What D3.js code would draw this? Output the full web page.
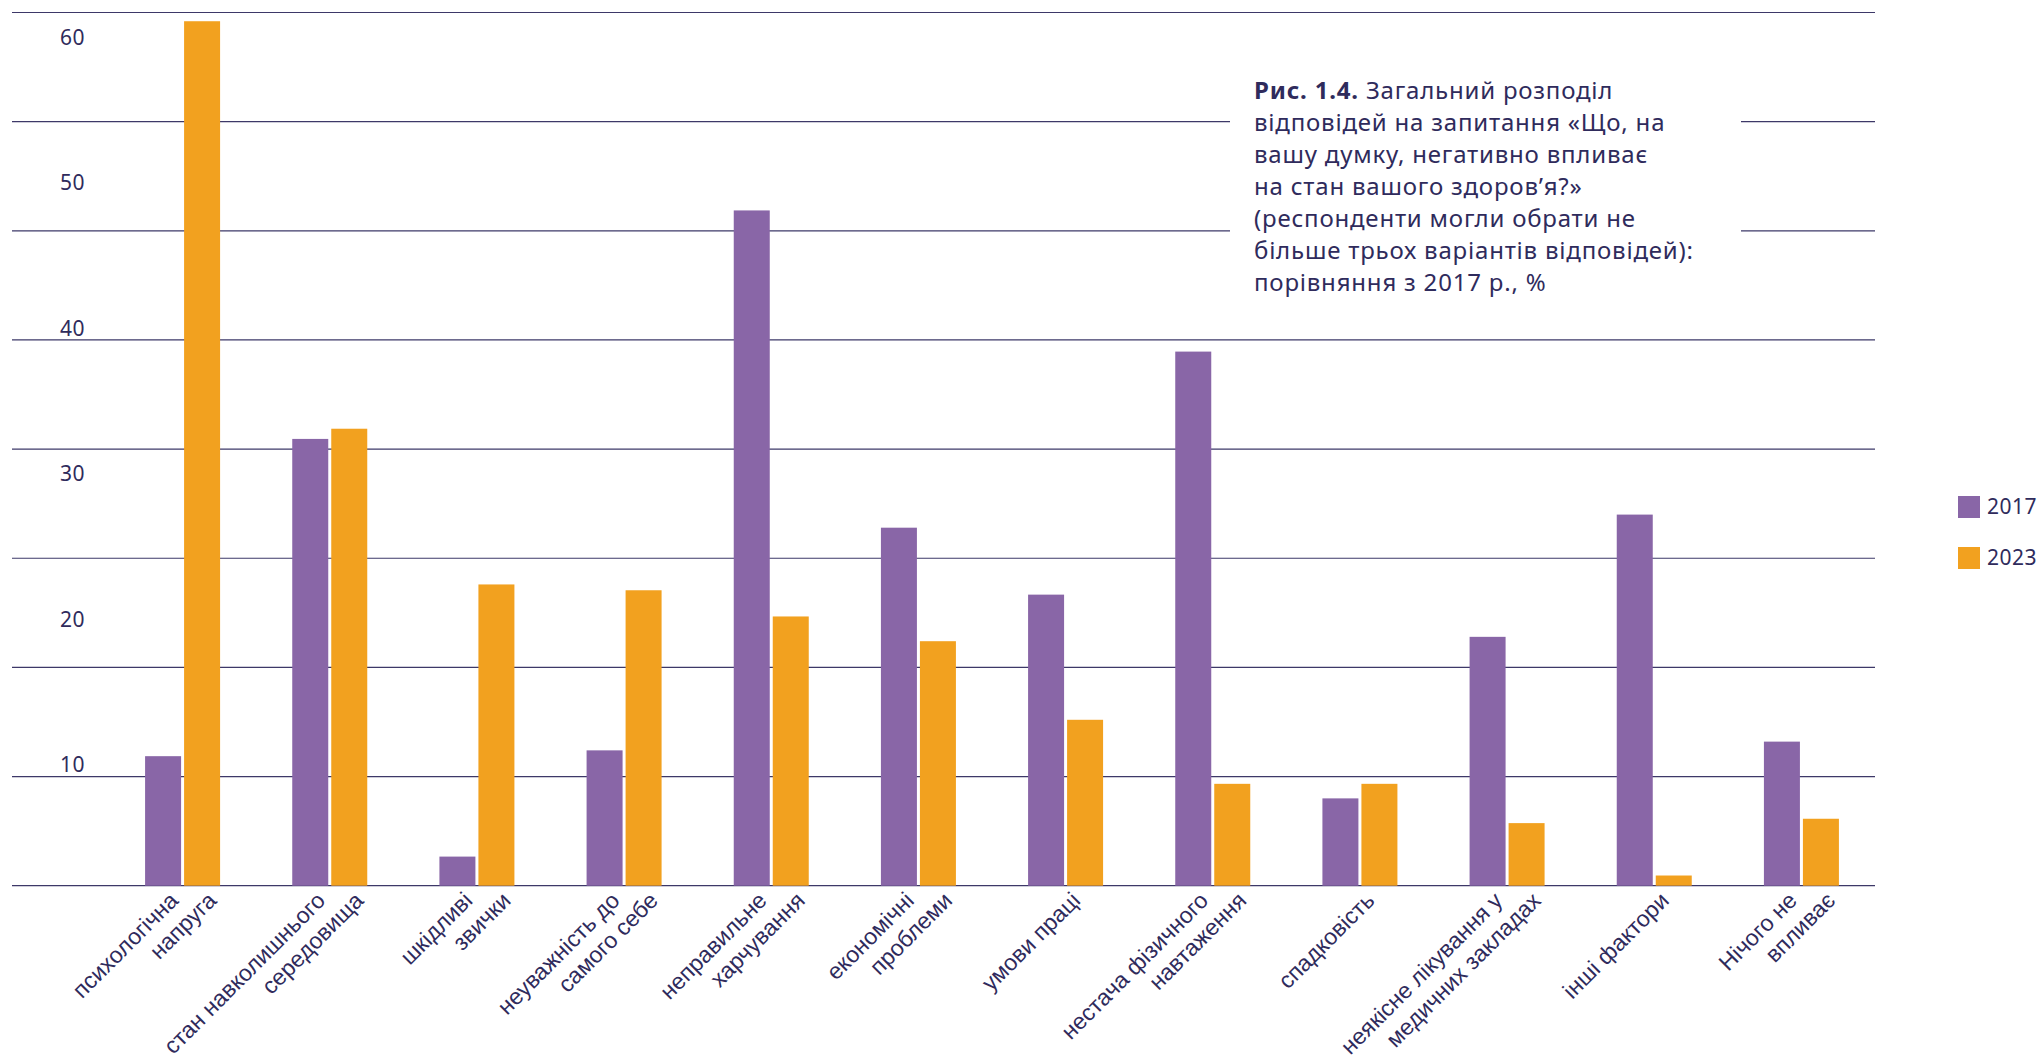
<!DOCTYPE html>
<html>
<head>
<meta charset="utf-8">
<script src="https://cdn.jsdelivr.net/npm/d3@7"></script>
<style>
  body { margin: 0; background: #fff; }
  svg { display: block; }
</style>
</head>
<body>
<svg class="Chart"></svg>
<script>
/* Data */
const categories = [
  "психологічна\nнапруга",
  "стан навколишнього\nсередовища",
  "шкідливі\nзвички",
  "неуважність до\nсамого себе",
  "неправильне\nхарчування",
  "економічні\nпроблеми",
  "умови праці",
  "нестача фізичного\nнавтаження",
  "спадковість",
  "неякісне лікування у\nмедичних закладах",
  "інші фактори",
  "Нічого не\nвпливає"
];
const series = ["2017", "2023"];
const values2017 = [8.9, 30.7, 2.0, 9.3, 46.4, 24.6, 20.0, 36.7, 6.0, 17.1, 25.5, 9.9];
const values2023 = [59.4, 31.4, 20.7, 20.3, 18.5, 16.8, 11.4, 7.0, 7.0, 4.3, 0.7, 4.6];
const yTicks = [10, 20, 30, 40, 50, 60];
const titleBold = "Рис. 1.4.";
const titleLines = [
  " Загальний розподіл",
  "відповідей на запитання «Що, на",
  "вашу думку, негативно впливає",
  "на стан вашого здоров’я?»",
  "(респонденти могли обрати не",
  "більше трьох варіантів відповідей):",
  "порівняння з 2017 р., %"
];

const colors = { "2017": "#8966a7", "2023": "#f2a11f" };
const ink = "#2f2b5c";
const labelFont = "'Noto Sans', sans-serif";

const width = 2040;
const height = 1060;
const svg = d3.select('.Chart')
  .attr('width', width)
  .attr('height', height);

const x = d3.scaleBand()
  .domain(categories)
  .range([109, 1875]);

const xInner = d3.scaleBand()
  .domain(series)
  .range([-37.5, 37.5])
  .paddingInner(0.077);

const y = d3.scaleLinear()
  .domain([0, 60])
  .range([885.7, 12.5]);

/* gridlines: 8 even steps up to the top */
svg.append('g')
  .selectAll('line')
  .data(d3.range(0, 60.01, 7.5))
  .enter().append('line')
  .attr('x1', 12)
  .attr('x2', 1875)
  .attr('y1', d => y(d))
  .attr('y2', d => y(d))
  .attr('stroke', '#3d3868')
  .attr('stroke-width', 1.2);

/* y labels sit a little under their value */
svg.append('g')
  .selectAll('text')
  .data(yTicks)
  .enter().append('text')
  .attr('x', 60)
  .attr('y', d => y(d) + 32)
  .attr('fill', ink)
  .style('font-family', labelFont)
  .style('font-size', '21px')
  .style('letter-spacing', '0.5px')
  .text(d => d);

/* bars */
const rows = categories.map((c, i) => ({ cat: c, "2017": values2017[i], "2023": values2023[i] }));

const groups = svg.append('g')
  .selectAll('g')
  .data(rows)
  .enter().append('g')
  .attr('transform', d => `translate(${x(d.cat) + x.bandwidth() / 2},0)`);

groups.selectAll('rect')
  .data(d => series.map(s => ({ key: s, value: d[s] })))
  .enter().append('rect')
  .attr('x', d => xInner(d.key))
  .attr('width', xInner.bandwidth())
  .attr('y', d => y(d.value))
  .attr('height', d => y(0) - y(d.value))
  .attr('fill', d => colors[d.key]);

/* rotated category labels */
const lineGap = 27;
svg.append('g')
  .selectAll('text')
  .data(categories)
  .enter().append('text')
  .attr('transform', d => `translate(${x(d) + x.bandwidth() / 2 + 16},902) rotate(-45)`)
  .attr('text-anchor', 'end')
  .attr('fill', ink)
  .style('font-family', "'Liberation Sans', Arial, sans-serif")
  .style('font-size', '23px')
  .each(function (d) {
    const parts = d.split('\n');
    const mid = (parts.length - 1) / 2;
    parts.forEach((p, k) => {
      d3.select(this).append('tspan')
        .attr('x', (k - mid) * lineGap)
        .attr('y', (k - mid) * lineGap)
        .text(p);
    });
  });

/* title block on white, it breaks the gridlines */
svg.append('rect')
  .attr('x', 1230)
  .attr('y', 62)
  .attr('width', 511)
  .attr('height', 250)
  .attr('fill', '#fff');

const title = svg.append('text')
  .attr('x', 1254)
  .attr('y', 99)
  .attr('fill', ink)
  .style('font-family', labelFont)
  .style('font-size', '24px')
  .style('letter-spacing', '0.8px');

titleLines.forEach((line, i) => {
  if (i === 0) {
    title.append('tspan')
      .attr('x', 1254)
      .attr('y', 99)
      .style('font-weight', 700)
      .text(titleBold);
    title.append('tspan').text(line);
  } else {
    title.append('tspan')
      .attr('x', 1254)
      .attr('y', 99 + i * 32)
      .text(line);
  }
});

/* legend */
const legend = svg.append('g')
  .selectAll('g')
  .data(series)
  .enter().append('g')
  .attr('transform', (d, i) => `translate(1958,${496 + i * 51})`);

legend.append('rect')
  .attr('width', 22)
  .attr('height', 22)
  .attr('fill', d => colors[d]);

legend.append('text')
  .attr('x', 29)
  .attr('y', 18)
  .attr('fill', ink)
  .style('font-family', labelFont)
  .style('font-size', '21px')
  .style('letter-spacing', '0.5px')
  .text(d => d);
</script>
</body>
</html>
